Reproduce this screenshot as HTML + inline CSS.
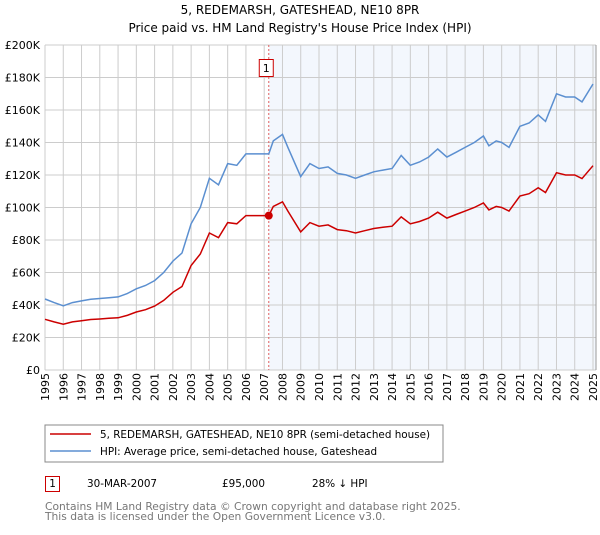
<!DOCTYPE html>
<html><head><meta charset="utf-8"><style>
body{margin:0;background:#fff;font-family:"Liberation Sans","DejaVu Sans",sans-serif;}
svg text{font-family:"DejaVu Sans","Liberation Sans",sans-serif;}
</style></head><body>
<svg id="c" width="600" height="530" xmlns="http://www.w3.org/2000/svg">
<text x="300" y="14" text-anchor="middle" font-size="12">5, REDEMARSH, GATESHEAD, NE10 8PR</text>
<text x="300" y="32" text-anchor="middle" font-size="12">Price paid vs. HM Land Registry's House Price Index (HPI)</text>
<g id="plot"></g>
<rect x="45" y="425" width="398" height="37" fill="#fff" stroke="#888"/>
<line x1="50" y1="434" x2="91" y2="434" stroke="#cc0000" stroke-width="1.5"/>
<text x="100" y="438" font-size="10.4">5, REDEMARSH, GATESHEAD, NE10 8PR (semi-detached house)</text>
<line x1="50" y1="451" x2="91" y2="451" stroke="#5b8fd0" stroke-width="1.5"/>
<text x="100" y="455" font-size="10.4">HPI: Average price, semi-detached house, Gateshead</text>
<rect x="45.5" y="476.5" width="14" height="15" fill="none" stroke="#cc0000"/>
<text x="52.5" y="487" font-size="10.4" text-anchor="middle">1</text>
<text x="87" y="487" font-size="10.4">30-MAR-2007</text>
<text x="222" y="487" font-size="10.4">£95,000</text>
<text x="312" y="487" font-size="10.4">28% ↓ HPI</text>
<text x="45" y="510" font-size="10.7" fill="#777">Contains HM Land Registry data © Crown copyright and database right 2025.</text>
<text x="45" y="520" font-size="10.7" fill="#777">This data is licensed under the Open Government Licence v3.0.</text>
</svg>
<script>
const years=[1995,1995.5,1996,1996.5,1997,1997.5,1998,1998.5,1999,1999.5,2000,2000.5,2001,2001.5,2002,2002.5,2003,2003.5,2004,2004.5,2005,2005.5,2006,2006.5,2007,2007.25,2007.5,2008,2008.3,2009,2009.5,2010,2010.5,2011,2011.5,2012,2012.5,2013,2013.5,2014,2014.5,2015,2015.5,2016,2016.5,2017,2017.5,2018,2018.5,2019,2019.3,2019.7,2020,2020.4,2021,2021.5,2022,2022.4,2023,2023.5,2024,2024.4,2025];
const hpi=[43.7,41.5,39.5,41.5,42.5,43.5,44,44.5,45,47,50,52,55,60,67,72,90,100,118,114,127,126,133,133,133,133,141,145,137,119,127,124,125,121,120,118,120,122,123,124,132,126,128,131,136,131,134,137,140,144,138,141,140,137,150,152,157,153,170,168,168,165,176];
const price=[31.2,29.6,28.2,29.6,30.3,31.1,31.4,31.8,32.1,33.6,35.7,37.1,39.3,42.8,47.8,51.4,64.3,71.4,84.3,81.4,90.7,90,95,95,95,95,100.7,103.5,97.8,85,90.7,88.5,89.3,86.4,85.7,84.3,85.7,87.1,87.8,88.5,94.2,90,91.4,93.5,97.1,93.5,95.7,97.8,100,102.8,98.5,100.7,100,97.8,107.1,108.5,112.1,109.2,121.4,120,120,117.8,125.7];
const yTicks=[0,20,40,60,80,100,120,140,160,180,200];
const yLabels=["£0","£20K","£40K","£60K","£80K","£100K","£120K","£140K","£160K","£180K","£200K"];
const xTicks=[1995,1996,1997,1998,1999,2000,2001,2002,2003,2004,2005,2006,2007,2008,2009,2010,2011,2012,2013,2014,2015,2016,2017,2018,2019,2020,2021,2022,2023,2024,2025];
const saleYear=[2007.25];
const saleValue=[95];
const X0=45,X1=593,Y0=370,Y1=45;
const xs=v=>X0+(v-1995)/30*(X1-X0);
const ys=v=>Y0-v/200*(Y0-Y1);
const NS="http://www.w3.org/2000/svg";
const g=document.getElementById('plot');
function mk(t,a){const e=document.createElementNS(NS,t);for(const k in a)e.setAttribute(k,a[k]);g.appendChild(e);return e;}
let r=mk('rect',{x:xs(saleYear[0]),y:Y1,width:X1+3-xs(saleYear[0]),height:Y0-Y1,fill:'#eef3fc',opacity:0.7});


yTicks.forEach((t,i)=>{
 let l=mk('line',{x1:X0,x2:X1+3,y1:ys(t),y2:ys(t),stroke:'#ccc'});
 
 
 let tx=mk('text',{x:X0-5,y:ys(t)+4,'text-anchor':'end','font-size':11});
 tx.textContent=yLabels[i];
 
 
});
xTicks.forEach(t=>{
 let l=mk('line',{x1:xs(t),x2:xs(t),y1:Y1,y2:Y0,stroke:'#ccc'});
 
 
 let tx=mk('text',{x:0,y:0,'text-anchor':'end','font-size':11,transform:`translate(${xs(t)+4},${Y0+3}) rotate(-90)`});
 tx.textContent=t;
 
 
});
let dl=mk('line',{x1:xs(saleYear[0]),x2:xs(saleYear[0]),y1:Y1,y2:Y0,stroke:'#e06060','stroke-dasharray':'2,2'});


const path=a=>a.map((v,i)=>(i?'L':'M')+xs(years[i]).toFixed(1)+','+ys(v).toFixed(1)).join('');
let hp=mk('path',{d:path(hpi),fill:'none',stroke:'#5b8fd0','stroke-width':1.5});


let pp=mk('path',{d:path(price),fill:'none',stroke:'#cc0000','stroke-width':1.5});


let pt=mk('circle',{cx:xs(saleYear[0]),cy:ys(saleValue[0]),r:4,fill:'#cc0000'});


let bx=mk('rect',{x:xs(saleYear[0])-9.5,y:59.5,width:14,height:17,fill:'#fff',stroke:'#cc0000'});


let bt=mk('text',{x:xs(saleYear[0])-2.5,y:72,'text-anchor':'middle','font-size':11});
bt.textContent='1';


let fr=mk('line',{x1:X1+3,x2:X1+3,y1:Y1,y2:Y0,stroke:'#999'});


</script>
</body></html>
